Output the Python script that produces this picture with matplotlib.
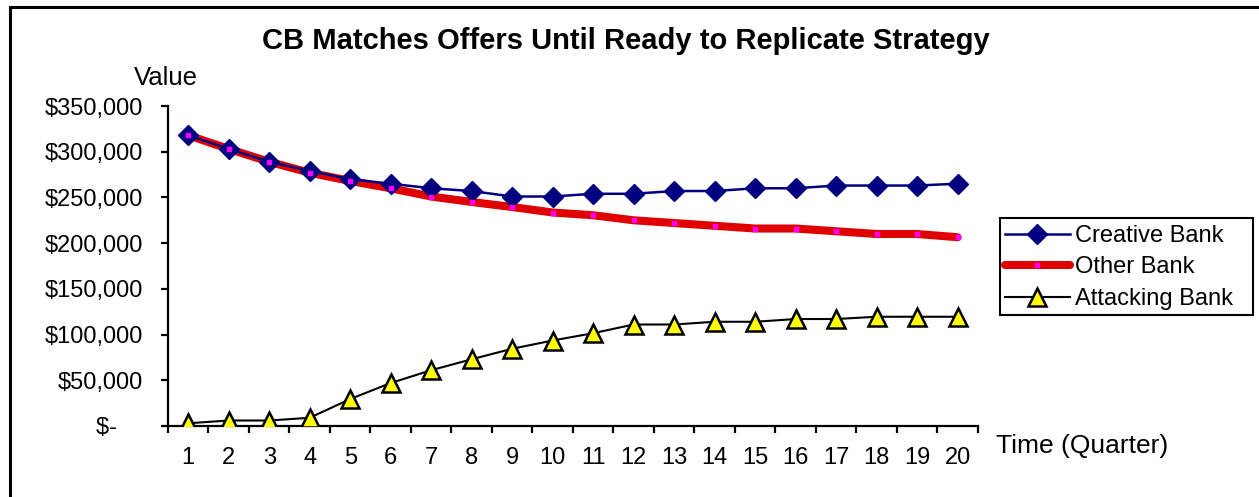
import matplotlib
matplotlib.use("Agg")
import matplotlib.pyplot as plt
from matplotlib.patches import Rectangle
from matplotlib.lines import Line2D
from matplotlib.ticker import FixedLocator, FuncFormatter

plt.rcParams['font.family'] = ['Liberation Sans', 'DejaVu Sans']

quarters = list(range(1, 21))
creative_bank = [318000, 303000, 289000, 279000, 270000, 265000, 260000, 257000, 251000, 251000,
                 254000, 254000, 257000, 257000, 260000, 260000, 263000, 263000, 263000, 265000]
other_bank = [318000, 303000, 289000, 277000, 268000, 260000, 251000, 245000, 239500, 233500,
              230500, 225000, 222000, 219000, 216000, 216000, 213000, 210000, 210000, 206500]
attacking_bank = [3000, 6000, 6000, 9000, 29500, 47000, 61000, 73000, 84500, 93500,
                  101500, 111000, 111000, 114000, 114000, 117000, 117000, 119500, 119500, 119500]
y_ticks = [0, 50000, 100000, 150000, 200000, 250000, 300000, 350000]

W, H = 1259, 497
fig = plt.figure(figsize=(W / 100, H / 100), dpi=100)

# outer chart frame (runs off the right and bottom edges)
fig.patches.append(Rectangle((9.5 / W, -0.05), 1.2, 1 - 6.5 / H + 0.05,
                             transform=fig.transFigure, fill=False,
                             edgecolor='black', linewidth=2.2, zorder=0))

ax = fig.add_axes([168 / W, 1 - 426 / H, (977.8 - 168) / W, (426 - 106) / H])

RED = '#E00000'
ax.plot(quarters, other_bank, color=RED, linewidth=5.8, solid_capstyle='round', zorder=2)
l1, = ax.plot(quarters, creative_bank, color='#000080', linewidth=1.8, marker='D',
              markersize=10, markerfacecolor='#000080', markeredgecolor='#000080',
              markeredgewidth=1, zorder=3, label='Creative Bank')
ax.plot(quarters, other_bank, linestyle='none', marker='s', markersize=3.5,
        markerfacecolor='#FF00FF', markeredgecolor='#FF00FF', zorder=4)
l3, = ax.plot(quarters, attacking_bank, color='black', linewidth=1.5, marker='^',
              markersize=12.5, markerfacecolor='#FFFF00', markeredgecolor='black',
              markeredgewidth=1.8, zorder=3, label='Attacking Bank')

ax.set_xlim(0.5, 20.5)
ax.set_ylim(0, 350000)

for s in ['top', 'right']:
    ax.spines[s].set_visible(False)
for s in ['left', 'bottom']:
    ax.spines[s].set_linewidth(1.6)

ax.xaxis.set_major_locator(FixedLocator(quarters))
ax.xaxis.set_minor_locator(FixedLocator([q + 0.5 for q in range(0, 21)]))
ax.tick_params(axis='x', which='major', length=0, pad=15, labelsize=17)
ax.tick_params(axis='x', which='minor', length=5, width=1.6, direction='out')
ax.set_yticks(y_ticks)
ax.yaxis.set_major_formatter(FuncFormatter(
    lambda v, p: '$-    ' if v == 0 else '${:,.0f}'.format(v)))
ax.tick_params(axis='y', length=5, width=1.6, direction='out', pad=13, labelsize=17)

fig.text(626 / W, 1 - 41 / H, 'CB Matches Offers Until Ready to Replicate Strategy',
         ha='center', va='center', fontsize=21, fontweight='bold')
fig.text(166 / W, 1 - 78 / H, 'Value', ha='center', va='center', fontsize=18.5)
fig.text(1082 / W, 1 - 446 / H, 'Time (Quarter)', ha='center', va='center', fontsize=19)

# legend handle for the thick red line with its square marker
l2 = Line2D([], [], color=RED, linewidth=5.8, solid_capstyle='round', marker='s',
            markersize=3.5, markerfacecolor='#FF00FF', markeredgecolor='#FF00FF')

fig.legend([l1, l2, l3], ['Creative Bank', 'Other Bank', 'Attacking Bank'],
           loc='upper left', bbox_to_anchor=(999 / W, 1 - 219 / H),
           bbox_transform=fig.transFigure, borderaxespad=0, fontsize=17,
           handlelength=2.75, handletextpad=0.2, labelspacing=0.4,
           borderpad=0.25, frameon=False)
# legend box drawn separately for its wider right margin
fig.patches.append(Rectangle((1000 / W, 1 - 315 / H), 253 / W, 97 / H,
                             transform=fig.transFigure, fill=False,
                             edgecolor='black', linewidth=1.5, zorder=5))

fig.savefig('out.png', dpi=100)
